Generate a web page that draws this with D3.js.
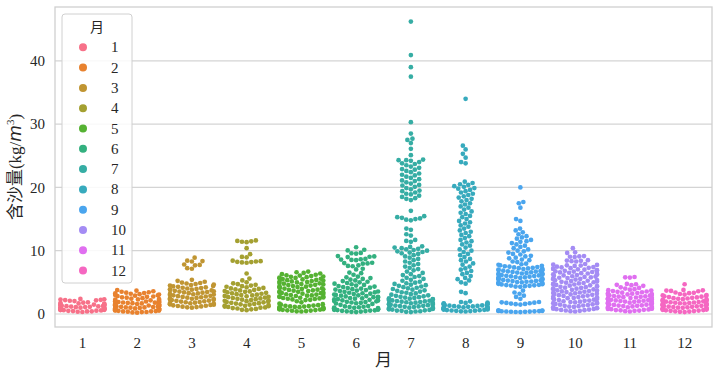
<!DOCTYPE html>
<html>
<head>
<meta charset="utf-8">
<script src="https://cdn.jsdelivr.net/npm/d3@7"></script>
<style>
  body { margin: 0; background: #fff; }
  svg { display: block; }
  .tick text { font-family: "Liberation Serif", "Noto Sans CJK SC", serif; fill: #262626; }
</style>
</head>
<body>
<svg id="chart" width="720" height="375"></svg>
<script>
// ---- data (含沙量 kg/m3 by month) ----
const months = ["1","2","3","4","5","6","7","8","9","10","11","12"];
const yTicks = [0, 10, 20, 30, 40];
const colors = ["#f77189","#e8822f","#c09532","#a4a031","#55b232","#33b07f","#36ada4","#37aabd","#4aa5ee","#a48cf4","#e06ff0","#f567c1"];

const m1 = [0.32,0.36,0.41,0.43,0.47,0.5,0.53,0.57,0.6,0.62,0.66,0.7,0.71,0.75,0.79,0.82,0.84,0.88,0.92,0.95,0.98,1.0,1.04,1.08,1.1,1.13,1.17,1.21,1.24,1.27,1.31,1.35,1.38,1.42,1.46,1.5,1.55,1.59,1.63,1.68,1.73,1.79,1.85,2.04,2.1,2.16,2.2,2.24,2.29,2.33,2.38];
const m2 = [0.21,0.25,0.3,0.32,0.37,0.41,0.43,0.47,0.5,0.55,0.57,0.61,0.64,0.68,0.7,0.74,0.78,0.8,0.83,0.88,0.9,0.93,0.97,1.01,1.04,1.06,1.1,1.14,1.18,1.2,1.23,1.27,1.3,1.35,1.38,1.4,1.44,1.48,1.51,1.54,1.58,1.6,1.64,1.68,1.71,1.75,1.79,1.82,1.86,1.9,1.95,1.98,2.03,2.07,2.1,2.16,2.2,2.26,2.31,2.37,2.43,2.5,2.58,2.64,2.71,2.77,2.84,2.9,2.95,3.01,3.08,3.13,3.2,3.25,3.31,3.38,3.44,3.52,3.6,3.69,3.78];
const m3 = [1.0,1.06,1.1,1.16,1.2,1.27,1.31,1.37,1.43,1.47,1.53,1.58,1.63,1.7,1.74,1.8,1.86,1.9,1.97,2.02,2.08,2.13,2.2,2.24,2.3,2.36,2.41,2.47,2.54,2.58,2.65,2.7,2.77,2.82,2.88,2.95,3.0,3.07,3.12,3.18,3.25,3.3,3.37,3.42,3.48,3.55,3.6,3.66,3.73,3.78,3.85,3.9,3.97,4.03,4.1,4.15,4.22,4.3,4.36,4.43,4.5,4.58,4.66,4.74,4.82,4.9,4.97,5.1,5.25,5.4,7.15,7.25,7.7,7.76,7.82,8.3,8.36,8.42,8.9];
const m4 = [0.6,0.67,0.74,0.8,0.87,0.94,1.0,1.05,1.12,1.18,1.23,1.3,1.35,1.41,1.47,1.53,1.6,1.65,1.72,1.77,1.84,1.9,1.96,2.03,2.08,2.15,2.21,2.27,2.34,2.4,2.46,2.53,2.6,2.66,2.73,2.8,2.86,2.93,3.0,3.06,3.14,3.2,3.27,3.35,3.42,3.5,3.57,3.64,3.72,3.8,3.88,3.96,4.05,4.13,4.22,4.31,4.4,4.5,4.61,4.72,4.85,5.0,5.3,5.6,6.4,8.1,8.15,8.2,8.25,8.3,8.35,8.42,8.95,9.02,9.45,10.4,11.35,11.42,11.48,11.55,11.62];
const m5 = [0.4,0.43,0.47,0.52,0.55,0.58,0.63,0.66,0.7,0.74,0.77,0.81,0.85,0.88,0.93,0.96,1.0,1.05,1.08,1.12,1.17,1.2,1.25,1.3,1.34,1.4,1.47,1.55,1.64,1.85,2.02,2.2,2.24,2.3,2.37,2.41,2.46,2.53,2.57,2.62,2.69,2.73,2.78,2.85,2.9,2.94,3.0,3.07,3.12,3.16,3.22,3.29,3.34,3.39,3.45,3.51,3.56,3.62,3.69,3.74,3.8,3.84,3.9,3.97,4.02,4.07,4.14,4.2,4.25,4.32,4.38,4.43,4.5,4.57,4.62,4.67,4.74,4.8,4.85,4.92,4.99,5.04,5.1,5.15,5.22,5.29,5.34,5.39,5.46,5.52,5.57,5.64,5.7,5.75,5.82,5.88,5.93,6.0,6.07,6.12,6.2,6.3,6.4,6.5,6.6,6.7];
const m6 = [0.3,0.34,0.38,0.43,0.46,0.5,0.55,0.58,0.62,0.66,0.71,0.74,0.78,0.83,0.86,0.9,0.95,0.98,1.02,1.07,1.1,1.15,1.2,1.26,1.45,1.6,1.66,1.7,1.77,1.82,1.88,1.93,2.0,2.05,2.12,2.17,2.24,2.3,2.35,2.42,2.48,2.53,2.6,2.66,2.71,2.78,2.84,2.9,2.95,3.02,3.08,3.15,3.22,3.28,3.36,3.43,3.5,3.56,3.64,3.71,3.78,3.86,3.93,4.02,4.1,4.17,4.26,4.34,4.42,4.5,4.6,4.7,4.8,4.9,5.0,5.1,5.2,5.3,5.42,5.55,5.68,5.8,5.92,6.2,6.45,6.55,7.05,7.15,7.55,7.6,7.7,7.95,8.0,8.05,8.1,8.5,8.55,8.6,8.65,8.7,9.0,9.05,9.1,9.15,9.55,9.6,9.65,10.05,10.15,10.55];
const m7 = [0.3,0.35,0.4,0.44,0.5,0.55,0.59,0.65,0.7,0.74,0.8,0.85,0.9,0.94,1.0,1.05,1.1,1.14,1.2,1.25,1.3,1.34,1.4,1.45,1.5,1.55,1.6,1.64,1.7,1.75,1.8,1.86,1.9,1.95,2.0,2.06,2.1,2.15,2.2,2.26,2.3,2.36,2.42,2.48,2.54,2.6,2.66,2.72,2.8,2.88,2.96,
  3.05,3.14,3.25,3.36,3.44,3.55,3.66,3.75,3.84,3.95,4.06,4.15,4.24,4.35,4.46,4.55,4.64,4.75,4.86,4.95,5.1,5.26,5.4,5.55,5.72,5.85,6.0,6.16,6.3,6.5,6.7,6.9,7.1,7.3,7.5,7.7,7.9,8.1,8.3,8.5,8.7,8.9,9.1,9.3,9.5,9.6,9.7,9.8,9.9,10.0,10.1,10.2,10.3,10.4,10.5,10.6,10.7,
  11.4,11.55,11.7,12.4,12.6,13.3,13.5,14.8,14.9,15.0,15.1,15.2,15.3,15.45,16.3,
  18.0,18.2,18.3,18.5,18.7,18.9,19.0,19.2,19.4,19.5,19.7,19.9,20.1,20.3,20.4,20.6,20.8,21.0,21.1,21.3,21.5,21.7,21.9,22.0,22.2,22.4,22.6,22.8,22.9,23.1,23.3,23.5,23.7,23.8,24.0,24.2,24.3,24.3,24.4,
  25.1,26.1,27.0,27.5,27.7,28.5,30.3,37.5,39.0,40.9,46.2];
const m8 = [0.4,0.43,0.47,0.5,0.53,0.56,0.6,0.63,0.66,0.7,0.73,0.76,0.8,0.83,0.86,0.9,0.93,0.96,1.0,1.03,1.06,1.1,1.13,1.16,1.2,1.24,1.28,1.32,1.36,1.4,1.45,1.5,1.55,1.6,1.65,1.7,1.76,1.82,1.9,2.0,3.3,3.5,
  4.8,5.0,5.3,5.5,5.7,6.0,6.3,6.5,6.8,7.0,7.2,7.5,7.8,8.0,8.3,8.5,8.7,9.0,9.3,9.5,9.8,10.0,10.2,10.5,10.8,11.0,11.3,11.5,11.7,12.0,12.3,12.5,12.8,13.0,13.2,13.5,13.8,14.0,14.3,14.5,14.7,15.0,15.3,15.5,15.8,16.0,16.2,16.5,16.8,17.0,17.3,17.5,17.8,
  18.0,18.2,18.4,18.6,18.8,19.0,19.2,19.4,19.6,19.8,19.9,20.1,20.2,20.4,20.5,20.7,20.9,
  23.8,24.0,24.7,25.3,26.0,26.6,34.0];
const m9 = [0.3,0.32,0.34,0.36,0.38,0.4,0.42,0.44,0.46,0.48,0.5,0.52,0.55,0.58,1.5,1.55,1.6,1.65,1.7,1.75,1.8,1.85,1.9,2.4,2.7,2.9,3.2,3.4,3.7,
  4.3,4.34,4.4,4.45,4.5,4.53,4.58,4.62,4.68,4.72,4.77,4.8,4.86,4.9,4.95,5.0,5.04,5.1,5.14,5.2,5.23,5.28,5.33,5.38,5.42,5.47,5.5,5.56,5.6,5.65,5.7,5.74,5.8,5.84,5.9,5.95,6.0,6.04,6.1,6.15,6.2,6.24,6.3,6.35,6.4,6.44,6.5,6.55,6.6,6.65,6.7,6.74,6.8,6.85,6.9,6.95,7.0,7.05,7.1,7.15,7.2,7.25,7.3,7.36,7.42,7.48,7.55,7.62,7.7,7.78,7.86,7.95,
  8.2,8.3,8.5,8.6,8.8,8.9,9.1,9.2,9.4,9.5,9.7,9.9,10.0,10.2,10.4,10.6,10.8,11.0,11.2,11.4,11.5,11.7,11.9,12.1,12.3,12.6,12.9,13.2,13.5,
  14.7,15.0,16.8,17.5,17.7,20.0];
const m10 = [0.4,0.45,0.5,0.56,0.6,0.65,0.7,0.76,0.8,0.85,0.91,0.95,1.0,1.06,1.12,1.17,1.24,1.3,1.35,1.42,1.48,1.53,1.6,1.66,1.71,1.78,1.84,1.9,1.95,2.02,2.08,2.13,2.2,2.26,2.31,2.38,2.44,2.5,2.55,2.62,2.68,2.73,2.8,2.86,2.91,2.98,3.04,3.1,3.15,3.22,3.28,3.33,3.4,3.46,3.52,3.57,3.64,3.7,3.75,3.82,3.88,3.93,4.0,4.06,4.12,4.17,4.24,4.3,4.35,4.42,4.48,4.53,4.6,4.66,4.72,4.77,4.84,4.9,4.95,5.02,5.08,5.13,5.2,5.26,5.32,5.37,5.44,5.5,5.55,5.62,5.68,5.73,5.8,5.86,5.92,5.97,6.04,6.1,6.15,6.22,6.28,6.33,6.4,6.46,6.52,6.57,6.64,6.7,6.75,6.82,6.88,6.93,7.0,7.06,7.12,7.17,7.24,7.3,7.36,7.42,7.48,
  7.6,7.65,7.7,7.75,7.8,7.9,8.3,8.35,8.4,8.45,8.5,9.0,9.05,9.1,9.15,9.65,9.75,10.4];
const m11 = [0.4,0.45,0.5,0.54,0.58,0.63,0.67,0.72,0.76,0.8,0.85,0.89,0.94,0.98,1.02,1.07,1.11,1.16,1.2,1.25,1.29,1.34,1.38,1.43,1.47,1.52,1.56,1.61,1.65,1.7,1.74,1.79,1.83,1.88,1.92,1.97,2.01,2.06,2.1,2.15,2.2,2.24,2.29,2.33,2.38,2.43,2.47,2.52,2.57,2.61,2.66,2.71,2.76,2.8,2.85,2.9,2.95,3.0,3.05,3.1,3.16,3.21,3.27,3.32,3.38,3.44,3.5,3.56,3.63,3.7,3.77,3.85,3.93,4.02,4.12,4.22,4.45,4.55,4.62,4.7,4.76,5.75,5.8,5.85];
const m12 = [0.3,0.34,0.38,0.42,0.46,0.5,0.54,0.58,0.62,0.66,0.7,0.74,0.78,0.82,0.86,0.9,0.94,0.98,1.02,1.06,1.1,1.14,1.18,1.22,1.26,1.3,1.34,1.38,1.42,1.46,1.5,1.54,1.58,1.62,1.66,1.7,1.74,1.78,1.82,1.86,1.9,1.95,2.0,2.05,2.1,2.15,2.2,2.25,2.3,2.35,2.4,2.45,2.5,2.56,2.62,2.68,2.74,2.8,2.86,2.93,3.0,3.08,3.16,3.3,3.35,3.4,3.6,3.65,3.7,3.75,3.8,4.7];
const monthValues = [m1,m2,m3,m4,m5,m6,m7,m8,m9,m10,m11,m12];

// ---- layout ----
const plot = {left: 55, right: 712, top: 7, bottom: 327};
const svg = d3.select("#chart");

const x = d3.scaleBand().domain(months).range([plot.left, plot.right]).padding(0);
const y = d3.scaleLinear().domain([-2.05, 48.5]).range([plot.bottom, plot.top]);

// grid
svg.append("g").selectAll("line").data(yTicks).join("line")
  .attr("x1", plot.left).attr("x2", plot.right)
  .attr("y1", d => y(d)).attr("y2", d => y(d))
  .attr("stroke", "#d4d4d4").attr("stroke-width", 1.2);

// axes
const yAxis = svg.append("g").attr("transform", `translate(${plot.left},0)`)
  .call(d3.axisLeft(y).tickValues(yTicks).tickSize(0).tickPadding(10));
yAxis.select(".domain").remove();
yAxis.selectAll("text").attr("font-size", 15);

const xAxis = svg.append("g").attr("transform", `translate(0,${plot.bottom})`)
  .call(d3.axisBottom(x).tickSize(0).tickPadding(10));
xAxis.select(".domain").remove();
xAxis.selectAll("text").attr("font-size", 15);

// swarm (seaborn-like beeswarm)
const dia = 4.7, rad = 2.35;
const halfW = x.bandwidth() * 0.8 / 2;
function swarm(vals, cx) {
  const pts = vals.map(v => ({v, py: y(v)})).sort((a, b) => a.v - b.v);
  const placed = [];
  for (const p of pts) {
    const nb = placed.filter(q => Math.abs(q.py - p.py) < dia);
    const left = [], right = [];
    for (const q of nb) {
      const dx = Math.sqrt(dia * dia - (q.py - p.py) ** 2);
      left.push(q.ox - dx); right.push(q.ox + dx);
    }
    const cands = [0, ...left, ...right].map((c, i) => ({c, i}))
      .sort((a, b) => (Math.abs(a.c) - Math.abs(b.c)) || (a.i - b.i));
    p.ox = 0;
    for (const {c} of cands) {
      let ok = true;
      for (const q of nb) {
        if ((q.ox - c) ** 2 + (q.py - p.py) ** 2 < dia * dia - 1e-6) { ok = false; break; }
      }
      if (ok) { p.ox = c; break; }
    }
    placed.push(p);
  }
  placed.forEach(p => { p.px = cx + Math.max(-halfW, Math.min(halfW, p.ox)); });
  return placed;
}

const dots = svg.append("g");
months.forEach((m, i) => {
  const cx = x(m) + x.bandwidth() / 2;
  const pts = swarm(monthValues[i], cx);
  dots.append("g").selectAll("circle").data(pts).join("circle")
    .attr("cx", d => d.px).attr("cy", d => d.py).attr("r", rad)
    .attr("fill", colors[i]);
});

// frame
svg.append("rect").attr("x", plot.left).attr("y", plot.top)
  .attr("width", plot.right - plot.left).attr("height", plot.bottom - plot.top)
  .attr("fill", "none").attr("stroke", "#d0d0d0").attr("stroke-width", 1.3);

// axis labels
svg.append("text").attr("x", (plot.left + plot.right) / 2).attr("y", 366)
  .attr("text-anchor", "middle").attr("font-size", 17)
  .attr("font-family", "'Noto Sans CJK SC', sans-serif").attr("fill", "#262626").text("月");

const yl = svg.append("text").attr("transform", "translate(21,167) rotate(-90)")
  .attr("text-anchor", "middle").attr("font-size", 17).attr("fill", "#262626")
  .attr("font-family", "'Liberation Serif', 'Noto Sans CJK SC', serif");
yl.append("tspan").attr("font-family", "'Noto Sans CJK SC', sans-serif").text("含沙量");
yl.append("tspan").text("(kg/");
yl.append("tspan").attr("font-family", "'DejaVu Sans', sans-serif").attr("font-style", "italic").text("m");
yl.append("tspan").attr("font-size", 11).attr("dy", -7).text("3");
yl.append("tspan").attr("dy", 7).text(")");

// legend
const lg = svg.append("g");
lg.append("rect").attr("x", 62).attr("y", 14).attr("width", 70).attr("height", 269)
  .attr("rx", 3).attr("fill", "#ffffff").attr("fill-opacity", 0.85)
  .attr("stroke", "#d0d0d0").attr("stroke-width", 1);
lg.append("text").attr("x", 97).attr("y", 32).attr("text-anchor", "middle")
  .attr("font-size", 14).attr("font-family", "'Noto Sans CJK SC', sans-serif")
  .attr("fill", "#262626").text("月");
const items = lg.selectAll("g.item").data(months).join("g").attr("class", "item")
  .attr("transform", (d, i) => `translate(0,${47.3 + i * 20.3})`);
items.append("circle").attr("cx", 83).attr("cy", 0).attr("r", 4)
  .attr("fill", (d, i) => colors[i]);
items.append("text").attr("x", 111).attr("y", 5).attr("font-size", 15)
  .attr("font-family", "'Liberation Serif', serif").attr("fill", "#262626").text(d => d);
</script>
</body>
</html>
